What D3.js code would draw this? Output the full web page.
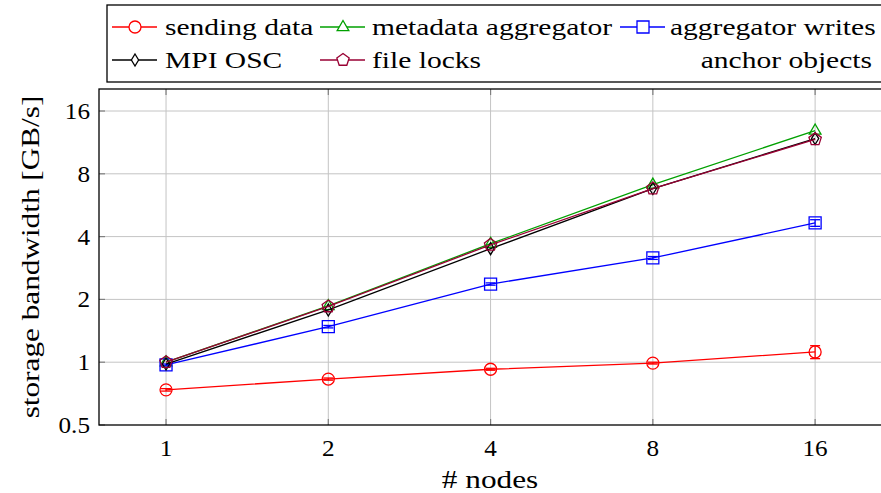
<!DOCTYPE html>
<html>
<head>
<meta charset="utf-8">
<script src="https://cdn.jsdelivr.net/npm/d3@7"></script>
<style>
  body { margin: 0; background: #fff; }
</style>
</head>
<body>
<svg id="chart" width="881" height="493"></svg>
<script>
// data
const nodes = [1, 2, 4, 8, 16];
const yTicks = [0.5, 1, 2, 4, 8, 16];

const sendingData = [0.737, 0.83, 0.925, 0.99, 1.12];
const sendingErr  = [0.01, 0.01, 0.01, 0.01, 0.08];
const metadataAgg = [1.0, 1.86, 3.7, 7.1, 12.9];
const aggWrites   = [0.97, 1.48, 2.37, 3.16, 4.65];
const aggWritesErr = [0.01, 0.02, 0.03, 0.05, 0.17];
const mpiOsc      = [0.98, 1.78, 3.5, 6.8, 11.8];
const fileLocks   = [1.0, 1.85, 3.65, 6.8, 11.7];

const series = [
  {name: 'sending data', values: sendingData, err: sendingErr, color: '#ff0000', mark: 'circle'},
  {name: 'metadata aggregator', values: metadataAgg, color: '#00a000', mark: 'triangle'},
  {name: 'aggregator writes', values: aggWrites, err: aggWritesErr, color: '#0000ff', mark: 'square'},
  {name: 'MPI OSC', values: mpiOsc, color: '#000000', mark: 'diamond'},
  {name: 'file locks', values: fileLocks, color: '#990033', mark: 'pentagon'}
];

const FONT = "'Liberation Serif', 'DejaVu Serif', serif";
const svg = d3.select('#chart');
const pLeft = 99, pRight = 881, pTop = 89, pBottom = 425;

const x = d3.scaleLog().base(2).domain([0.751, 21.2]).range([pLeft, pRight]);
const y = d3.scaleLog().base(2).domain([0.5, 20.4]).range([pBottom, pTop]);

// Times-like face is narrower than the reference's, so stretch it a bit
function addText(parent, tx, ty, str, opts) {
  opts = opts || {};
  return parent.append('text')
    .attr('text-anchor', opts.anchor || 'start')
    .attr('font-family', FONT)
    .attr('font-size', opts.size || 24)
    .attr('fill', '#000')
    .attr('transform', 'translate(' + tx + ',' + ty + ')' + (opts.rotate ? ' rotate(-90)' : '') +
      ' scale(' + (opts.sx || 1) + ',1)')
    .text(str);
}

// grid
svg.append('g').selectAll('line').data(nodes).join('line')
  .attr('x1', d => x(d)).attr('x2', d => x(d))
  .attr('y1', pTop).attr('y2', pBottom)
  .attr('stroke', '#c4c4c4').attr('stroke-width', 1);
svg.append('g').selectAll('line').data(yTicks.slice(1)).join('line')
  .attr('x1', pLeft).attr('x2', pRight)
  .attr('y1', d => y(d)).attr('y2', d => y(d))
  .attr('stroke', '#c4c4c4').attr('stroke-width', 1);

// inner tick marks
svg.append('g').selectAll('line').data(nodes).join('line')
  .attr('x1', d => x(d)).attr('x2', d => x(d))
  .attr('y1', pBottom).attr('y2', pBottom - 6)
  .attr('stroke', '#808080').attr('stroke-width', 1.2);
svg.append('g').selectAll('line').data(nodes).join('line')
  .attr('x1', d => x(d)).attr('x2', d => x(d))
  .attr('y1', pTop).attr('y2', pTop + 6)
  .attr('stroke', '#808080').attr('stroke-width', 1.2);
svg.append('g').selectAll('line').data(yTicks).join('line')
  .attr('x1', pLeft).attr('x2', pLeft + 6)
  .attr('y1', d => y(d)).attr('y2', d => y(d))
  .attr('stroke', '#808080').attr('stroke-width', 1.2);

// tick labels
const xLab = svg.append('g');
nodes.forEach(d => addText(xLab, x(d), pBottom + 31, d, {anchor: 'middle', size: 24, sx: 1.05}));
const yLab = svg.append('g');
yTicks.forEach(d => addText(yLab, pLeft - 9, y(d) + 8, d, {anchor: 'end', size: 24, sx: 1.05}));

// axis titles
addText(svg, (pLeft + pRight) / 2, 488, '# nodes', {anchor: 'middle', size: 25, sx: 1.25});
addText(svg, 39, (pTop + pBottom) / 2, 'storage bandwidth [GB/s]', {anchor: 'middle', rotate: true, size: 25, sx: 1.25});

// markers
function markPath(type, s) {
  if (type === 'circle') return d3.symbol(d3.symbolCircle, Math.PI * s * s)();
  if (type === 'square') return 'M' + (-s) + ',' + (-s) + 'H' + s + 'V' + s + 'H' + (-s) + 'Z';
  if (type === 'triangle') return 'M0,' + (-s) + 'L' + (s * 0.9) + ',' + (s * 0.55) + 'L' + (-s * 0.9) + ',' + (s * 0.55) + 'Z';
  if (type === 'diamond') return 'M0,' + (-s) + 'L' + (s * 0.6) + ',0L0,' + s + 'L' + (-s * 0.6) + ',0Z';
  if (type === 'pentagon') {
    let p = d3.range(5).map(i => {
      let a = -Math.PI / 2 + i * 2 * Math.PI / 5;
      return [s * Math.cos(a), s * Math.sin(a)];
    });
    return 'M' + p.join('L') + 'Z';
  }
}
const markSize = {circle: 6, square: 6, triangle: 6.5, diamond: 6, pentagon: 6.5};

const line = d3.line().x(d => x(d[0])).y(d => y(d[1]));

series.forEach(s => {
  let pts = nodes.map((n, i) => [n, s.values[i]]);
  let g = svg.append('g');
  g.append('path')
    .attr('d', line(pts))
    .attr('fill', 'none')
    .attr('stroke', s.color)
    .attr('stroke-width', 1.3);
  if (s.err) {
    nodes.forEach((n, i) => {
      let y1 = y(s.values[i] + s.err[i]), y2 = y(s.values[i] - s.err[i]);
      g.append('line').attr('x1', x(n)).attr('x2', x(n)).attr('y1', y1).attr('y2', y2)
        .attr('stroke', s.color).attr('stroke-width', 1.3);
      [y1, y2].forEach(yy => g.append('line')
        .attr('x1', x(n) - 5).attr('x2', x(n) + 5).attr('y1', yy).attr('y2', yy)
        .attr('stroke', s.color).attr('stroke-width', 1.3));
    });
  }
  g.selectAll('path.mark').data(pts).join('path')
    .attr('class', 'mark')
    .attr('transform', d => 'translate(' + x(d[0]) + ',' + y(d[1]) + ')')
    .attr('d', markPath(s.mark, markSize[s.mark]))
    .attr('fill', 'none')
    .attr('stroke', s.color)
    .attr('stroke-width', 1.3);
});

// axis frame
svg.append('rect')
  .attr('x', pLeft).attr('y', pTop)
  .attr('width', pRight - pLeft + 2).attr('height', pBottom - pTop)
  .attr('fill', 'none').attr('stroke', '#000').attr('stroke-width', 1.3);

// legend
const legend = svg.append('g');
legend.append('rect')
  .attr('x', 107).attr('y', 5).attr('width', 780).attr('height', 77)
  .attr('fill', '#fff').attr('stroke', '#000').attr('stroke-width', 1.3);

const legendPos = [
  {lx: 112, tx: 165, ty: 27},
  {lx: 320, tx: 372, ty: 27},
  {lx: 620, tx: 670, ty: 27},
  {lx: 112, tx: 165, ty: 60},
  {lx: 320, tx: 372, ty: 60}
];
series.forEach((s, i) => {
  let p = legendPos[i];
  legend.append('line')
    .attr('x1', p.lx).attr('x2', p.lx + 45).attr('y1', p.ty).attr('y2', p.ty)
    .attr('stroke', s.color).attr('stroke-width', 1.3);
  legend.append('path')
    .attr('transform', 'translate(' + (p.lx + 23) + ',' + p.ty + ')')
    .attr('d', markPath(s.mark, markSize[s.mark]))
    .attr('fill', '#fff').attr('stroke', s.color).attr('stroke-width', 1.3);
  addText(legend, p.tx, p.ty + 8, s.name, {size: 24, sx: 1.23});
});
addText(legend, 872, 68, 'anchor objects', {anchor: 'end', size: 24, sx: 1.23});
</script>
</body>
</html>
